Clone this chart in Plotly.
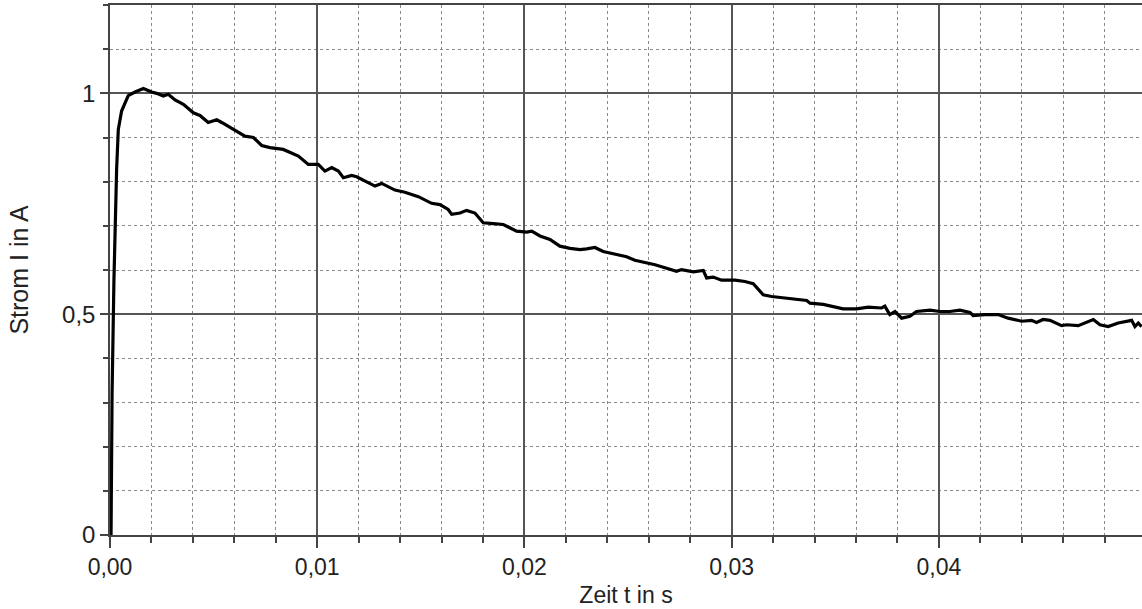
import plotly.graph_objects as go

# Time in seconds
time_s = [0.0, 0.00005, 0.0001, 0.00019, 0.00032, 0.0004, 0.00056, 0.00088, 0.00121, 0.00161,
          0.00201, 0.00225, 0.00257, 0.00281, 0.00314, 0.00354, 0.00402, 0.00434, 0.00474, 0.00515,
          0.00539, 0.00595, 0.00651, 0.00692, 0.00732, 0.00772, 0.00836, 0.00909, 0.00957, 0.01005,
          0.01037, 0.0107, 0.01102, 0.01126, 0.01166, 0.0119, 0.0123, 0.01279, 0.01311, 0.01375,
          0.01423, 0.01488, 0.01552, 0.01592, 0.01632, 0.01649, 0.01689, 0.01721, 0.01761, 0.01801,
          0.0185, 0.01898, 0.01962, 0.02011, 0.02035, 0.02075, 0.02123, 0.02171, 0.0222, 0.02268,
          0.023, 0.0234, 0.0238, 0.02421, 0.02461, 0.02493, 0.02533, 0.02581, 0.0263, 0.02678,
          0.02734, 0.02758, 0.02815, 0.02863, 0.02879, 0.02911, 0.02951, 0.03016, 0.03064, 0.03104,
          0.03152, 0.03193, 0.03241, 0.03305, 0.03362, 0.03378, 0.03442, 0.03538, 0.03603, 0.03659,
          0.03723, 0.03739, 0.03763, 0.03788, 0.0382, 0.0386, 0.03892, 0.03957, 0.04005, 0.04053,
          0.04101, 0.0415, 0.04165, 0.04222, 0.04286, 0.04334, 0.04399, 0.04447, 0.04471, 0.04503,
          0.04536, 0.04592, 0.04616, 0.04672, 0.04704, 0.04745, 0.04777, 0.04817, 0.04865, 0.0493,
          0.04946, 0.04962, 0.04978]

# Current in ampere
current_a = [0.0, 0.0, 0.32, 0.578, 0.828, 0.918, 0.96, 0.995, 1.003, 1.011,
             1.003, 1.0, 0.994, 0.998, 0.985, 0.975, 0.956, 0.95, 0.934, 0.94,
             0.934, 0.918, 0.903, 0.9, 0.882, 0.877, 0.873, 0.858, 0.839, 0.839,
             0.824, 0.832, 0.824, 0.809, 0.814, 0.811, 0.801, 0.79, 0.796, 0.781,
             0.776, 0.766, 0.751, 0.748, 0.737, 0.726, 0.729, 0.735, 0.729, 0.707,
             0.705, 0.703, 0.688, 0.686, 0.688, 0.677, 0.669, 0.654, 0.649, 0.646,
             0.648, 0.651, 0.642, 0.637, 0.633, 0.63, 0.622, 0.617, 0.612, 0.605,
             0.597, 0.601, 0.596, 0.599, 0.582, 0.584, 0.577, 0.577, 0.574, 0.569,
             0.544, 0.54, 0.537, 0.533, 0.531, 0.525, 0.522, 0.512, 0.512, 0.516,
             0.514, 0.518, 0.499, 0.506, 0.491, 0.495, 0.506, 0.509, 0.506, 0.506,
             0.509, 0.504, 0.497, 0.499, 0.499, 0.491, 0.484, 0.486, 0.481, 0.488,
             0.486, 0.474, 0.476, 0.474, 0.48, 0.488, 0.476, 0.472, 0.48, 0.486,
             0.472, 0.48, 0.472]

x_tick_vals = [0.0, 0.01, 0.02, 0.03, 0.04]
x_tick_text = ["0,00", "0,01", "0,02", "0,03", "0,04"]
y_tick_vals = [0.0, 0.5, 1.0]
y_tick_text = ["0", "0,5", "1"]

FONT = "Liberation Sans, Arial, sans-serif"

fig = go.Figure()
fig.add_trace(go.Scatter(x=time_s, y=current_a, mode="lines",
                         line=dict(color="black", width=3.2), showlegend=False))

fig.update_layout(
    width=1142, height=609,
    margin=dict(l=110, r=0, t=5, b=74),
    plot_bgcolor="white", paper_bgcolor="white",
    font=dict(family=FONT, size=23, color="#222"),
)

fig.update_xaxes(
    range=[0, 0.0498], automargin=False,
    tickmode="array", tickvals=x_tick_vals, ticktext=x_tick_text,
    ticks="outside", ticklen=11, tickwidth=1.5, tickcolor="#444",
    showgrid=True, gridcolor="#555", gridwidth=1.5,
    showline=True, linecolor="#444", linewidth=1.5, mirror=True,
    zeroline=False,
    tickfont=dict(size=23),
    title=dict(text="Zeit t in s", font=dict(size=23), standoff=8),
    minor=dict(tickmode="linear", tick0=0, dtick=0.002, ticks="outside", ticklen=6,
               tickcolor="#444", showgrid=True, gridcolor="#8a8a8a", griddash="dot", gridwidth=1),
)

fig.update_yaxes(
    range=[0, 1.2], automargin=False,
    tickmode="array", tickvals=y_tick_vals, ticktext=y_tick_text,
    ticks="outside", ticklen=8, tickwidth=1.5, tickcolor="#444",
    showgrid=True, gridcolor="#555", gridwidth=1.5,
    showline=True, linecolor="#444", linewidth=1.5,
    zeroline=False,
    tickfont=dict(size=24),
    title=dict(text="Strom I in A", font=dict(size=25), standoff=26),
    minor=dict(tickmode="linear", tick0=0, dtick=0.1, ticks="outside", ticklen=5,
               tickcolor="#444", showgrid=True, gridcolor="#8a8a8a", griddash="dot", gridwidth=1),
)

fig.write_html(
    "out.html",
    config={"displayModeBar": False},
    post_script="document.body.style.margin='0';document.body.style.overflow='hidden';",
)
